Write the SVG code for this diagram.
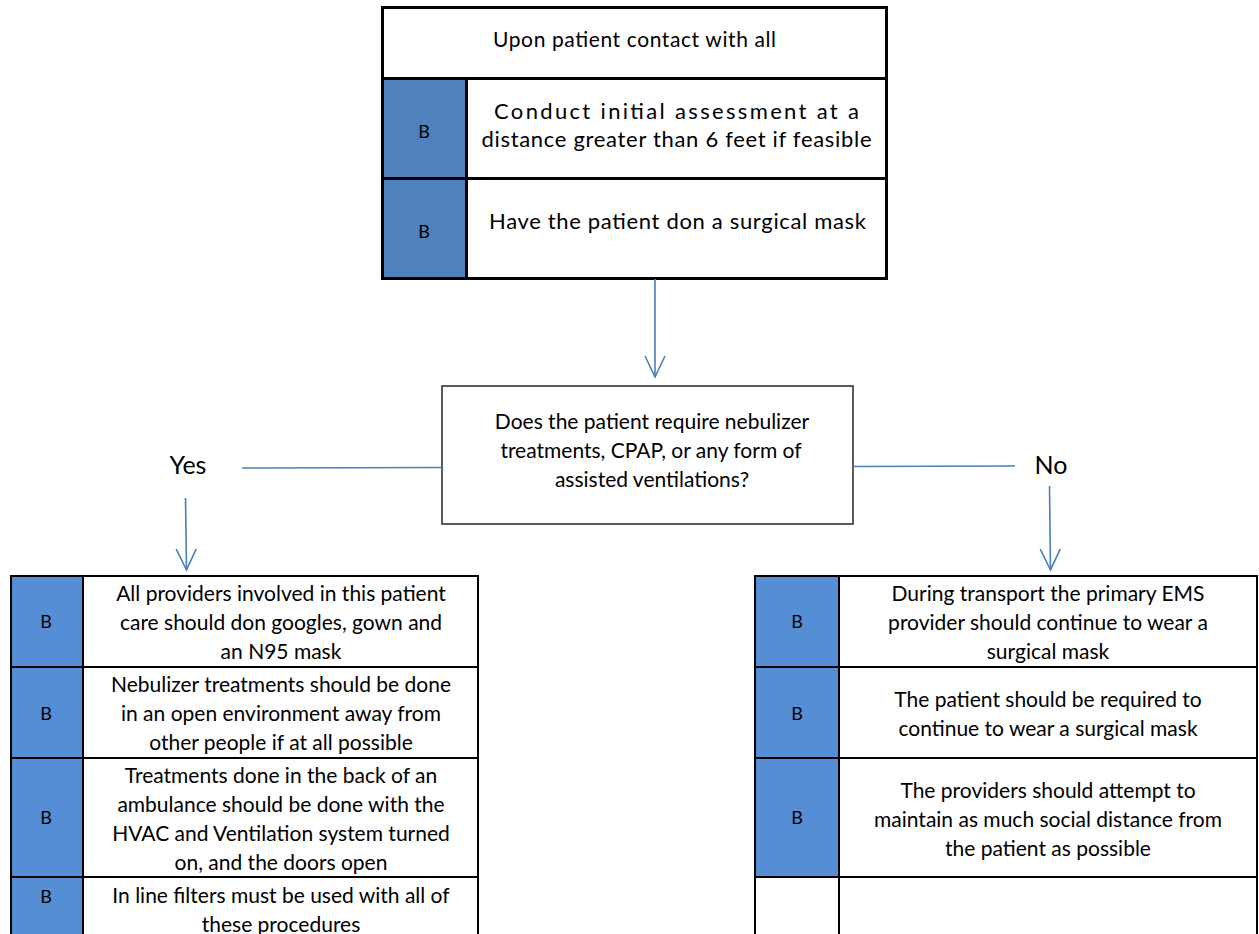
<svg xmlns="http://www.w3.org/2000/svg" width="1259" height="934" viewBox="0 0 1259 934">
<style>
text{font-family:Lato,"Open Sans","Liberation Sans",sans-serif;fill:#000;text-anchor:middle}
.t{font-size:21px}
.tt{font-size:22px}
.y{font-size:25px}
.b{font-size:18px}
.thick{fill:none;stroke:#000;stroke-width:3}
.thin{fill:none;stroke:#000;stroke-width:2}
.c{fill:none;stroke:#4A7EBB;stroke-width:1.6}
</style>
<defs>
<marker id="ah" viewBox="0 0 24 22" refX="22" refY="11" markerWidth="24" markerHeight="22" markerUnits="userSpaceOnUse" orient="auto">
<path d="M1,1 L22,11 L1,21" fill="none" stroke="#4A7EBB" stroke-width="1.6"/>
</marker>
</defs>
<rect width="1259" height="934" fill="#fff"/>

<g id="top-table">
<rect x="382.5" y="178.5" width="84" height="100" fill="#4F81BD"/>
<rect x="382.5" y="78.5" width="84" height="100" fill="#4F81BD"/>
<rect class="thick" x="382.5" y="7.5" width="504" height="271"/>
<line class="thick" x1="382.5" y1="78.5" x2="886.5" y2="78.5"/>
<line class="thick" x1="382.5" y1="178.5" x2="886.5" y2="178.5"/>
<line class="thick" x1="466.5" y1="78.5" x2="466.5" y2="278.5"/>
<text class="t" x="634.5" y="47" textLength="283">Upon patient contact with all</text>
<text class="b" x="424" y="138">B</text>
<text class="tt" x="676.5" y="119" textLength="365">Conduct initial assessment at a</text>
<text class="tt" x="676.5" y="147" textLength="390">distance greater than 6 feet if feasible</text>
<text class="b" x="424" y="238">B</text>
<text class="tt" x="677.5" y="229" textLength="377">Have the patient don a surgical mask</text>
</g>

<g id="decision">
<rect x="442" y="386" width="411" height="138" fill="#fff" stroke="#333" stroke-width="1.6"/>
<text class="t" x="652" y="429">Does the patient require nebulizer</text>
<text class="t" x="651" y="458">treatments, CPAP, or any form of</text>
<text class="t" x="652" y="487">assisted ventilations?</text>
</g>

<g id="yes-label"><text class="y" x="188" y="474">Yes</text></g>
<g id="no-label"><text class="y" x="1051" y="474">No</text></g>

<g id="connectors">
<line class="c" x1="655" y1="279" x2="655" y2="377" marker-end="url(#ah)"/>
<line class="c" x1="242" y1="468" x2="442" y2="467.5"/>
<line class="c" x1="853" y1="466.5" x2="1015" y2="466"/>
<line class="c" x1="185.5" y1="498" x2="186.5" y2="570" marker-end="url(#ah)"/>
<line class="c" x1="1049.5" y1="486" x2="1050.5" y2="570" marker-end="url(#ah)"/>
</g>

<g id="yes-table">
<rect x="11" y="576" width="72" height="370" fill="#558ED5"/>
<rect class="thin" x="11" y="576" width="467" height="370"/>
<line class="thin" x1="83" y1="576" x2="83" y2="946"/>
<line class="thin" x1="11" y1="667" x2="478" y2="667"/>
<line class="thin" x1="11" y1="758" x2="478" y2="758"/>
<line class="thin" x1="11" y1="877" x2="478" y2="877"/>
<text class="b" x="46" y="628">B</text>
<text class="b" x="46" y="720">B</text>
<text class="b" x="46" y="824">B</text>
<text class="b" x="46" y="903">B</text>
<text class="t" x="281" y="601">All providers involved in this patient</text>
<text class="t" x="281" y="630">care should don googles, gown and</text>
<text class="t" x="281" y="659">an N95 mask</text>
<text class="t" x="281" y="692">Nebulizer treatments should be done</text>
<text class="t" x="281" y="721">in an open environment away from</text>
<text class="t" x="281" y="750">other people if at all possible</text>
<text class="t" x="281" y="783">Treatments done in the back of an</text>
<text class="t" x="281" y="812">ambulance should be done with the</text>
<text class="t" x="281" y="841">HVAC and Ventilation system turned</text>
<text class="t" x="281" y="870">on, and the doors open</text>
<text class="t" x="281" y="903">In line filters must be used with all of</text>
<text class="t" x="281" y="932">these procedures</text>
</g>

<g id="no-table">
<rect x="755" y="576" width="84" height="301" fill="#558ED5"/>
<rect class="thin" x="755" y="576" width="502" height="370"/>
<line class="thin" x1="839" y1="576" x2="839" y2="946"/>
<line class="thin" x1="755" y1="667" x2="1257" y2="667"/>
<line class="thin" x1="755" y1="758" x2="1257" y2="758"/>
<line class="thin" x1="755" y1="877" x2="1257" y2="877"/>
<text class="b" x="797" y="628">B</text>
<text class="b" x="797" y="720">B</text>
<text class="b" x="797" y="824">B</text>
<text class="t" x="1048" y="601">During transport the primary EMS</text>
<text class="t" x="1048" y="630">provider should continue to wear a</text>
<text class="t" x="1048" y="659">surgical mask</text>
<text class="t" x="1048" y="707">The patient should be required to</text>
<text class="t" x="1048" y="736">continue to wear a surgical mask</text>
<text class="t" x="1048" y="798">The providers should attempt to</text>
<text class="t" x="1048" y="827">maintain as much social distance from</text>
<text class="t" x="1048" y="856">the patient as possible</text>
</g>
</svg>
